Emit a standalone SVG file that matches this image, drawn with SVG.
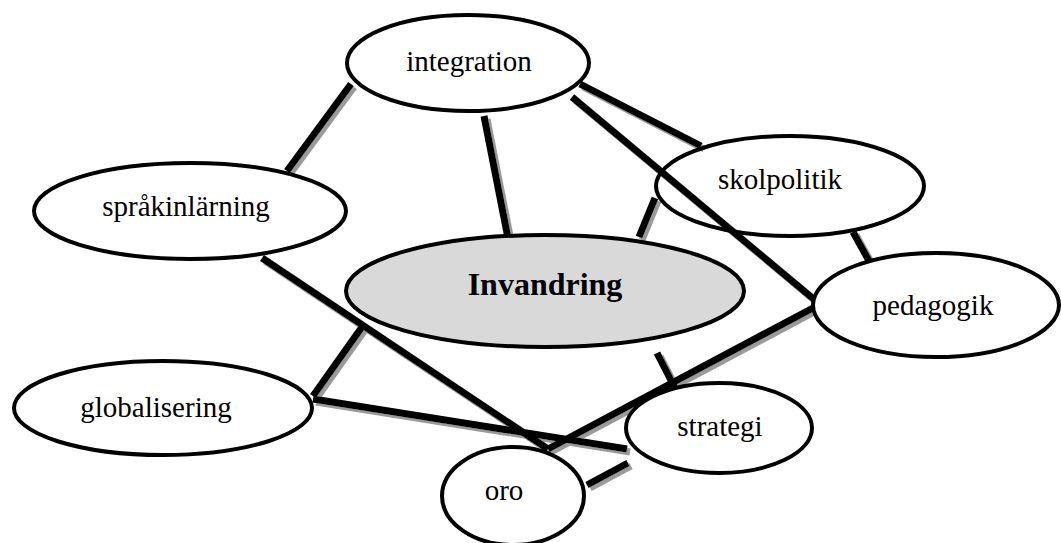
<svg xmlns="http://www.w3.org/2000/svg" width="1061" height="543" viewBox="0 0 1061 543">
<style>
.bg{fill:#fff}
.conn line{stroke:#000;stroke-width:7;stroke-linecap:butt}
.node ellipse{fill:#fff;stroke:#000;stroke-width:4}
.node text{font-family:"Liberation Serif","Times New Roman",serif;font-size:29px;fill:#000;text-anchor:middle}
#n-invandring ellipse{fill:#d9d9d9}
#n-invandring text{font-weight:bold;font-size:32px}
#n-skolpolitik ellipse{fill:none}
</style>
<defs>
<filter id="sh" x="-10%" y="-10%" width="120%" height="120%">
<feFlood flood-color="#9a9a9a" result="c"/>
<feComposite in="c" in2="SourceAlpha" operator="in" result="s"/>
<feOffset in="s" dx="3" dy="3" result="o"/>
<feMerge><feMergeNode in="o"/><feMergeNode in="SourceGraphic"/></feMerge>
</filter>
</defs>
<rect class="bg" x="0" y="0" width="1061" height="543"/>
<g id="connectors" class="conn" filter="url(#sh)">
<line x1="351" y1="84" x2="287" y2="171"/>
<line x1="484" y1="116" x2="508" y2="238"/>
<line x1="580" y1="84" x2="701" y2="146"/>
<line x1="572" y1="97" x2="816" y2="301"/>
<line x1="655" y1="198" x2="639" y2="237"/>
<line x1="853" y1="232" x2="873" y2="268"/>
<line x1="262" y1="258" x2="548" y2="449"/>
<line x1="362" y1="327" x2="313" y2="396"/>
<line x1="313" y1="399" x2="627" y2="449"/>
<line x1="813" y1="308" x2="548" y2="449"/>
<line x1="587" y1="485" x2="628" y2="463"/>
<line x1="657" y1="353" x2="676" y2="390"/>
</g>
<g id="n-integration" class="node"><ellipse cx="468" cy="63" rx="121" ry="48"/><text x="469" y="71">integration</text></g>
<g id="n-skolpolitik" class="node"><ellipse cx="790" cy="186" rx="134" ry="50"/><text x="780" y="189">skolpolitik</text></g>
<g id="n-sprakinlarning" class="node"><ellipse cx="190" cy="211" rx="156" ry="48"/><text x="186" y="216">språkinlärning</text></g>
<g id="n-invandring" class="node"><ellipse cx="545" cy="291" rx="199" ry="56"/><text x="545" y="295">Invandring</text></g>
<g id="n-pedagogik" class="node"><ellipse cx="936" cy="305" rx="123" ry="52"/><text x="933" y="315">pedagogik</text></g>
<g id="n-globalisering" class="node"><ellipse cx="163" cy="408" rx="149" ry="47"/><text x="156" y="417">globalisering</text></g>
<g id="n-strategi" class="node"><ellipse cx="719" cy="428" rx="93" ry="45"/><text x="720" y="436">strategi</text></g>
<g id="n-oro" class="node"><ellipse cx="513" cy="496" rx="71" ry="49"/><text x="504" y="500">oro</text></g>
</svg>
